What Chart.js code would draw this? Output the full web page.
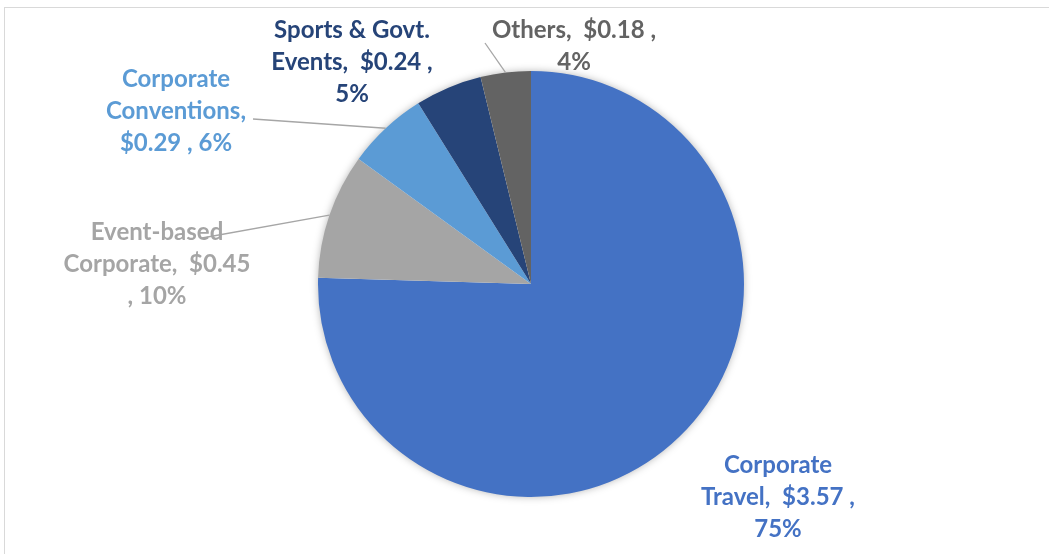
<!DOCTYPE html>
<html>
<head>
<meta charset="utf-8">
<script src="https://cdn.jsdelivr.net/npm/chart.js@4"></script>
<style>
  html, body { margin: 0; padding: 0; background: #fff; }
  #wrap { position: relative; width: 1049px; height: 554px; }
</style>
</head>
<body>
<div id="wrap"><canvas id="chart" width="1049" height="554"></canvas></div>
<script>
// data ($ values and shares)
const categories = ['Corporate Travel', 'Event-based Corporate', 'Corporate Conventions', 'Sports & Govt. Events', 'Others'];
const values = [3.57, 0.45, 0.29, 0.24, 0.18];
const percents = [75, 10, 6, 5, 4];
const sliceColors = ['#4472C4', '#A5A5A5', '#5B9BD5', '#264478', '#636363'];

// label placement, relative to the pie centre (px)
const labelOffsets = [[247, 213], [-374, -20], [-355, -173], [-179, -222], [43, -238]];
const wrapWidths = [172, 193, 160, 172, 178];
const leaderFrom = [null, [-329, -46], [-278, -165], null, [-46, -241]];

const LABEL_FONT = 'bold 24px Lato';
const LINE_H = 32;

function wrapText(ctx, text, maxW) {
    const words = text.split(' ');
    const lines = [];
    let cur = '';
    for (const w of words) {
        const test = cur === '' ? w : cur + ' ' + w;
        if (cur.trim() !== '' && w !== '' && ctx.measureText(test.trim()).width > maxW) {
            lines.push(cur.trim());
            cur = w;
        } else {
            cur = test;
        }
    }
    if (cur.trim()) lines.push(cur.trim());
    return lines;
}

const frameAndLabels = {
    id: 'frameAndLabels',
    beforeDraw(chart) {
        const ctx = chart.ctx;
        ctx.save();
        ctx.strokeStyle = '#D9D9D9';
        ctx.lineWidth = 1;
        ctx.strokeRect(4.5, 7.5, 1100, 600);
        ctx.restore();
    },
    beforeDatasetsDraw(chart) {
        // soft shadow under the pie
        const arc = chart.getDatasetMeta(0).data[0];
        const ctx = chart.ctx;
        ctx.save();
        ctx.shadowColor = 'rgba(0,0,0,0.35)';
        ctx.shadowBlur = 8;
        ctx.fillStyle = '#fff';
        ctx.beginPath();
        ctx.arc(arc.x, arc.y, arc.outerRadius - 1, 0, Math.PI * 2);
        ctx.fill();
        ctx.restore();
    },
    afterDatasetsDraw(chart) {
        const ctx = chart.ctx;
        const arcs = chart.getDatasetMeta(0).data;
        ctx.save();
        ctx.font = LABEL_FONT;
        arcs.forEach((arc, i) => {
            const cx = arc.x, cy = arc.y;
            // leader line
            if (leaderFrom[i]) {
                const mid = (arc.startAngle + arc.endAngle) / 2;
                ctx.strokeStyle = '#A6A6A6';
                ctx.lineWidth = 1.3;
                ctx.beginPath();
                ctx.moveTo(cx + leaderFrom[i][0], cy + leaderFrom[i][1]);
                ctx.lineTo(cx + arc.outerRadius * Math.cos(mid), cy + arc.outerRadius * Math.sin(mid));
                ctx.stroke();
            }
            const text = `${categories[i]},  $${values[i].toFixed(2)} , ${percents[i]}%`;
            const lines = wrapText(ctx, text, wrapWidths[i]);
            const lx = cx + labelOffsets[i][0];
            const ly = cy + labelOffsets[i][1] - (lines.length - 1) * LINE_H / 2;
            ctx.fillStyle = sliceColors[i];
            ctx.textAlign = 'center';
            ctx.textBaseline = 'middle';
            lines.forEach((ln, k) => ctx.fillText(ln, lx, ly + k * LINE_H));
        });
        ctx.restore();
    }
};

new Chart(document.getElementById('chart'), {
    type: 'pie',
    data: {
        labels: categories,
        datasets: [{
            data: values,
            backgroundColor: sliceColors,
            borderWidth: 0
        }]
    },
    options: {
        responsive: false,
        animation: false,
        layout: { padding: { left: 318, right: 305, top: 71, bottom: 57 } },
        plugins: {
            legend: { display: false },
            tooltip: { enabled: false }
        }
    },
    plugins: [frameAndLabels]
});
</script>
</body>
</html>
